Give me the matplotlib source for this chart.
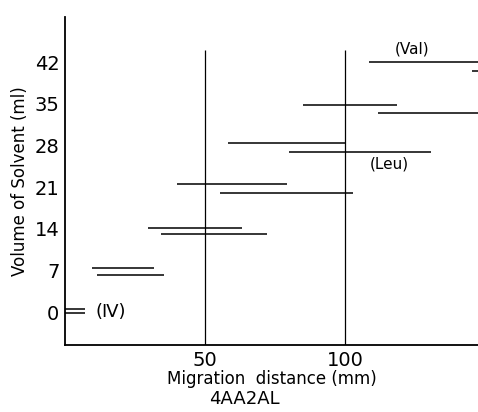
import matplotlib
matplotlib.use('Agg')
from matplotlib import pyplot as plt

# fraction bands: volume of solvent (ml) vs migration start / end (mm)
band_y = [0.5, -0.2, 7.4, 6.2, 14.1, 13.1, 21.5, 20.0, 28.4, 26.9, 34.8, 33.4, 42.0, 40.5]
band_x0 = [0.0, 0.0, 9.6, 11.4, 29.6, 34.3, 40.0, 55.4, 58.2, 80.0, 85.0, 111.8, 108.6, 145.4]
band_x1 = [7.1, 7.1, 31.8, 35.4, 63.2, 72.1, 79.3, 102.9, 100.0, 130.7, 118.6, 150.0, 150.0, 150.0]

y_ticks = [0, 7, 14, 21, 28, 35, 42]
x_ticks = [50, 100]
ref_lines = [50, 100]

labels = ['(Val)', '(Leu)', '(\u2163)']
label_x = [124, 116, 16.5]
label_y = [44.3, 24.9, 0.0]
label_size = [11, 11, 13]

fig = plt.figure(figsize=(4.78, 4.12), dpi=100)
ax = fig.add_axes([65/478, 1-345/412, 1-65/478, 328/412])

ax.hlines(band_y, band_x0, band_x1, colors='black', lw=1.1)
ax.vlines(ref_lines, -5.5, 44.0, colors='black', lw=0.9)

for t, lx, ly, fs in zip(labels, label_x, label_y, label_size):
    ax.text(lx, ly, t, fontsize=fs, ha='center', va='center', family=['DejaVu Sans'])

ax.set_xlim(0, 147.5)
ax.set_ylim(-5.5, 49.6)
ax.set_xticks(x_ticks)
ax.set_yticks(y_ticks)
ax.tick_params(length=0, labelsize=14, pad=4)
ax.tick_params(axis='x', pad=4)
for s in ['top', 'right']:
    ax.spines[s].set_visible(False)
ax.spines['left'].set_linewidth(1.3)
ax.spines['bottom'].set_linewidth(1.3)

ax.set_xlabel('Migration  distance (mm)', fontsize=12, labelpad=0)
ax.set_ylabel('Volume of Solvent (ml)', fontsize=12, labelpad=4)
fig.text(244/478, 1-399/412, '4AA2AL', fontsize=13, ha='center', va='center')

fig.savefig('out.png', dpi=100)
